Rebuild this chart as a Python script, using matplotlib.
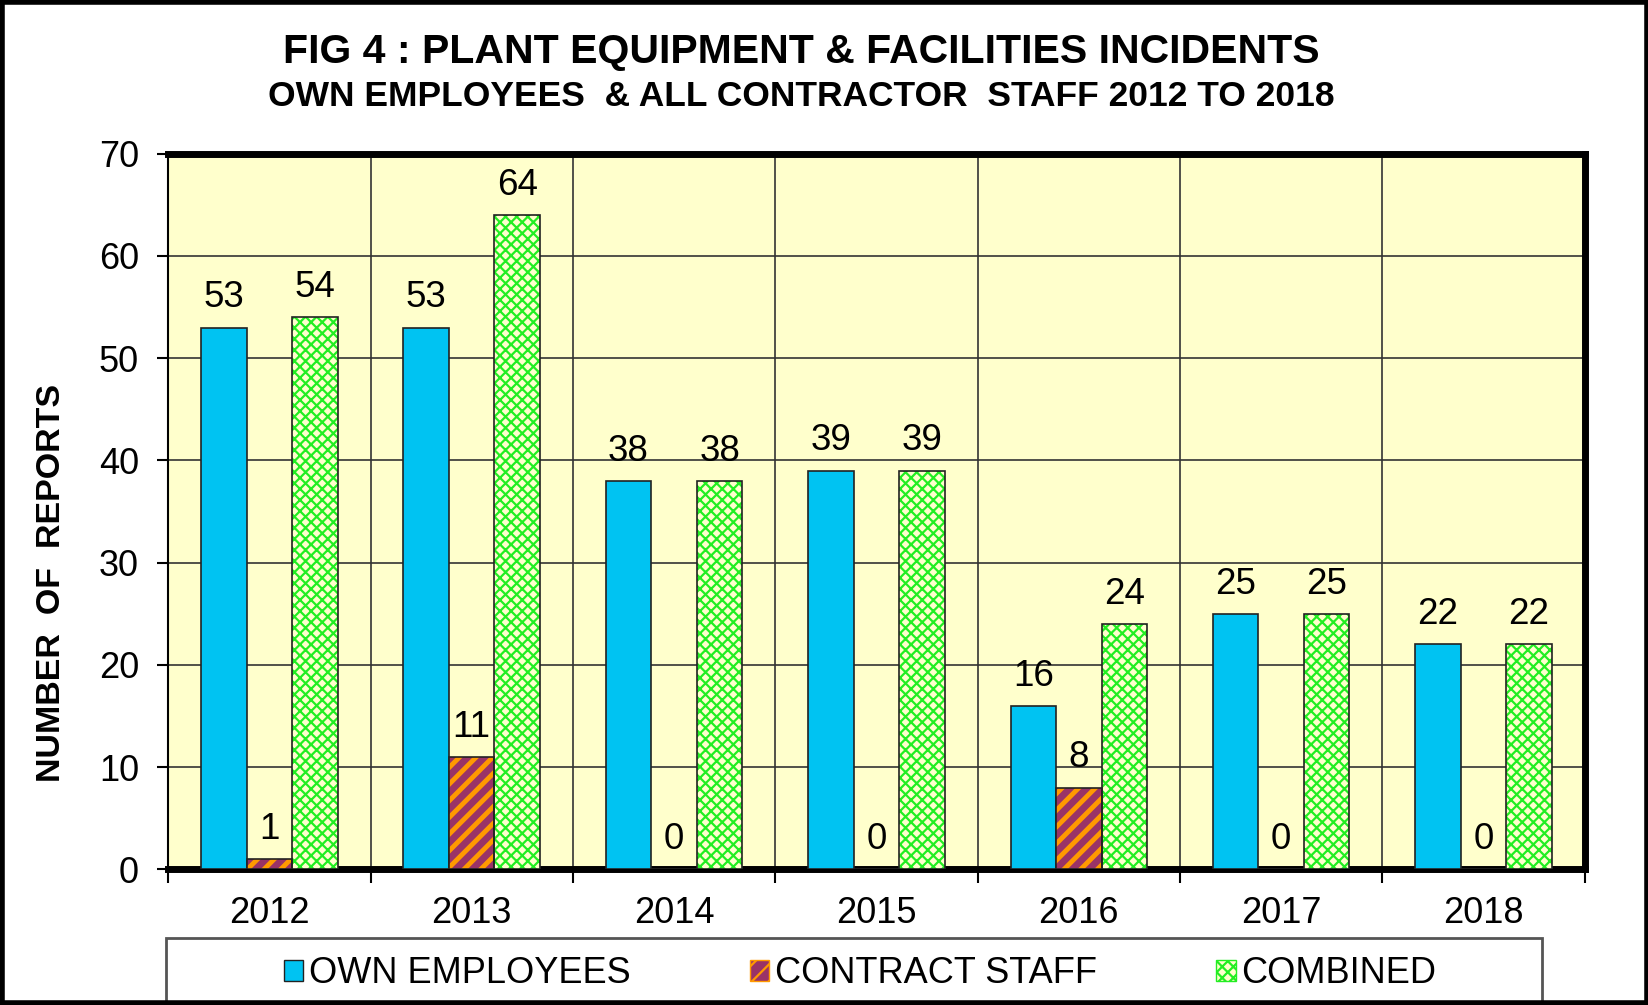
import numpy as np
import matplotlib as mpl
import matplotlib.pyplot as plt
from matplotlib.patches import Rectangle, Patch

plt.rcParams['font.family'] = ['Liberation Sans', 'DejaVu Sans']
plt.rcParams['hatch.linewidth'] = 1.6

years = ['2012', '2013', '2014', '2015', '2016', '2017', '2018']
own = [53, 53, 38, 39, 16, 25, 22]
contract = [1, 11, 0, 0, 8, 0, 0]
combined = [54, 64, 38, 39, 24, 25, 22]

blue = '#00C3F2'
purple = '#993366'
orange = '#FF9900'
pale = '#FFFFCC'
green = '#22EE22'

fig = plt.figure(figsize=(16.49, 10.05), dpi=100)
ax = fig.add_axes([0.102, 0.135, 0.859, 0.712])
ax.set_facecolor(pale)

x = np.arange(len(years))
w = 0.225

ax.bar(x - w, own, w, color=blue, edgecolor='#222222', linewidth=1.2, zorder=3)
# hatched bars: fill + hatch first, outline drawn on top
with mpl.rc_context({'hatch.linewidth': 3.5}):
    ax.bar(x, contract, w, color=purple, edgecolor=orange, hatch='//', linewidth=0, zorder=3)
ax.bar(x, contract, w, fill=False, edgecolor='#222222', linewidth=1.2, zorder=4)
ax.bar(x + w, combined, w, color=pale, edgecolor=green, hatch='xxx', linewidth=0, zorder=3)
ax.bar(x + w, combined, w, fill=False, edgecolor='#222222', linewidth=1.2, zorder=4)

for i in range(len(years)):
    ax.text(x[i] - w, own[i] + 1.2, str(own[i]), ha='center', va='bottom', fontsize=26.5, zorder=5)
    ax.text(x[i], contract[i] + 1.2, str(contract[i]), ha='center', va='bottom', fontsize=26.5, zorder=5)
    ax.text(x[i] + w, combined[i] + 1.2, str(combined[i]), ha='center', va='bottom', fontsize=26.5, zorder=5)

ax.set_xlim(-0.5, len(years) - 0.5)
ax.set_ylim(0, 70)
ax.set_yticks(range(0, 71, 10))
ax.set_xticks(x)
ax.set_xticklabels(years, fontsize=26)
ax.tick_params(axis='y', labelsize=26, length=8, width=1.5, direction='out', pad=13)
ax.tick_params(axis='x', length=0, pad=19)
ax.set_xticks(np.arange(-0.5, len(years), 1), minor=True)
ax.tick_params(axis='x', which='minor', length=10, width=1.5, direction='out')

ax.grid(axis='y', color='#333333', linewidth=1.2, zorder=1)
ax.grid(axis='x', which='minor', color='#333333', linewidth=1.2, zorder=1)
ax.grid(axis='x', which='major', visible=False)
ax.set_axisbelow(True)

for side in ['top', 'right', 'bottom']:
    ax.spines[side].set_linewidth(5)
ax.spines['left'].set_linewidth(1.5)

ax.set_ylabel('NUMBER  OF  REPORTS', fontsize=24.5, fontweight='bold')
ax.yaxis.set_label_coords(-0.0716, 0.40)

fig.text(0.486, 0.948, 'FIG 4 : PLANT EQUIPMENT & FACILITIES INCIDENTS',
         ha='center', va='center', fontsize=29.5, fontweight='bold')
fig.text(0.486, 0.904, 'OWN EMPLOYEES  & ALL CONTRACTOR  STAFF 2012 TO 2018',
         ha='center', va='center', fontsize=25.5, fontweight='bold')

# legend box
fig.patches.append(Rectangle((166 / 1649, -0.01), (1542 - 166) / 1649, (1005 - 938) / 1005 + 0.01,
                             transform=fig.transFigure, fill=False, edgecolor='#555555', linewidth=2))
handles = [Patch(facecolor=blue, edgecolor='#222222'),
           Patch(facecolor=purple, edgecolor=orange, hatch='//'),
           Patch(facecolor=pale, edgecolor=green, hatch='xxx')]
fig.legend(handles, ['OWN EMPLOYEES', 'CONTRACT STAFF', 'COMBINED'], loc='center',
           bbox_to_anchor=(0.5215, 0.031), ncol=3, frameon=False, fontsize=26,
           handlelength=0.55, handleheight=0.55, handletextpad=0.15, columnspacing=3.3)

# figure border
fig.patches.append(Rectangle((0.001, 0.002), 0.998, 0.996, transform=fig.transFigure,
                             fill=False, edgecolor='black', linewidth=4))

fig.savefig('out.png', dpi=100)
